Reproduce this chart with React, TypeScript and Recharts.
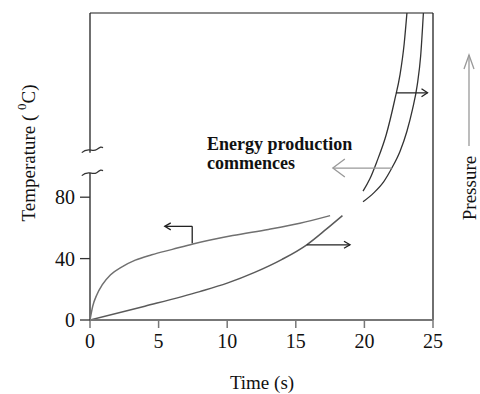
import React from "react";
import { LineChart, Line, XAxis, YAxis, ReferenceLine, ReferenceDot } from "recharts";

type Pt = { t: number; v: number };

const xTicks = [0, 5, 10, 15, 20, 25];
const yTicks = [0, 40, 80];

// temperature (left arrow) - rises fast then flattens
const temperatureCurve: Pt[] = [
  { t: 0, v: 0 }, { t: 0.2, v: 9 }, { t: 0.5, v: 16.5 }, { t: 0.9, v: 23 },
  { t: 1.5, v: 29.5 }, { t: 2.3, v: 34.5 }, { t: 3.3, v: 39 }, { t: 4.5, v: 42.5 },
  { t: 6, v: 46 }, { t: 7.5, v: 49.5 }, { t: 10.4, v: 55 }, { t: 13, v: 59 },
  { t: 15.3, v: 63 }, { t: 17.5, v: 68 },
];

// pressure (right arrow) - slow start then steeper
const pressureCurve: Pt[] = [
  { t: 0, v: 0 }, { t: 4, v: 9 }, { t: 8, v: 18.5 }, { t: 10, v: 24 },
  { t: 12, v: 31 }, { t: 14, v: 39.5 }, { t: 15.8, v: 49 }, { t: 17.2, v: 59 },
  { t: 18.4, v: 68 },
];

// after energy production commences (above the axis break)
const riseLeft: Pt[] = [
  { t: 19.9, v: 84 }, { t: 20.4, v: 92 }, { t: 20.9, v: 103 }, { t: 21.6, v: 121 },
  { t: 22.2, v: 143 }, { t: 22.6, v: 160 }, { t: 22.9, v: 180 }, { t: 23.1, v: 200 },
];
const riseRight: Pt[] = [
  { t: 19.9, v: 77 }, { t: 20.7, v: 83 }, { t: 21.4, v: 90 }, { t: 22.0, v: 99 },
  { t: 22.6, v: 110 }, { t: 23.1, v: 123 }, { t: 23.5, v: 137 }, { t: 23.85, v: 153 },
  { t: 24.1, v: 172 }, { t: 24.3, v: 200 },
];

// axis break positions (data units on the temperature scale)
const breakLow = 96;
const breakHigh = 109;

const serif = "'Liberation Serif', 'DejaVu Serif', serif";

const arrowShape = (color: string, len: number, half: number, head = true) => (props: any) => {
  const { x1, y1, x2, y2 } = props;
  const dx = x2 - x1;
  const dy = y2 - y1;
  const d = Math.sqrt(dx * dx + dy * dy) || 1;
  const ux = dx / d;
  const uy = dy / d;
  const bx = x2 - ux * len;
  const by = y2 - uy * len;
  return (
    <g>
      <line x1={x1} y1={y1} x2={x2} y2={y2} stroke={color} strokeWidth={1.3} />
      {head && (
        <polyline
          points={`${bx - uy * half},${by + ux * half} ${x2},${y2} ${bx + uy * half},${by - ux * half}`}
          fill="none"
          stroke={color}
          strokeWidth={1.3}
        />
      )}
    </g>
  );
};

const squiggle = (props: any) => {
  const { x1, y1, x2 } = props;
  const w = x2 - x1;
  return (
    <path
      d={`M${x1},${y1 + 3} C${x1 + w * 0.3},${y1 - 3} ${x1 + w * 0.5},${y1 + 3} ${x1 + w * 0.7},${y1} S${x2 - 2},${y1 - 3} ${x2},${y1 - 2}`}
      fill="none"
      stroke="#333"
      strokeWidth={1.2}
    />
  );
};

const annotation = (props: any) => (
  <text x={props.cx} y={props.cy} fontFamily={serif} fontWeight="bold" fontSize={18} fill="#111">
    <tspan x={props.cx}>Energy production</tspan>
    <tspan x={props.cx} dy={19}>commences</tspan>
  </text>
);

const TempLabel = () => {
  const cx = 28;
  const cy = 153;
  return (
    <text x={cx} y={cy} transform={`rotate(-90 ${cx} ${cy})`} textAnchor="middle" dominantBaseline="central" fontFamily={serif} fontSize={19} fill="#111">
      Temperature ( <tspan fontSize={13} dy={-7}>0</tspan><tspan dy={7}>C)</tspan>
    </text>
  );
};

const PressureLabel = (props: any) => {
  const { x } = props.viewBox;
  const cx = x + 36;
  const cy = 188;
  return (
    <g>
      <line x1={cx} y1={146} x2={cx} y2={55} stroke="#999" strokeWidth={1.3} />
      <polyline points={`${cx - 5},${69} ${cx},${55} ${cx + 5},${69}`} fill="none" stroke="#999" strokeWidth={1.3} />
      <text x={cx} y={cy} transform={`rotate(-90 ${cx} ${cy})`} textAnchor="middle" dominantBaseline="central" fontFamily={serif} fontSize={19} fill="#111">
        Pressure
      </text>
    </g>
  );
};

const TimeLabel = () => (
  <text x={262} y={389} textAnchor="middle" fontFamily={serif} fontSize={19} fill="#111">
    Time (s)
  </text>
);

export default function App() {
  return (
    <div style={{ position: "absolute", left: 0, top: 0, width: 480, height: 394, background: "#fff" }}>
      <LineChart width={480} height={394} margin={{ top: 13, right: 0, left: 30, bottom: 34 }}>
        <XAxis
          dataKey="t"
          type="number"
          domain={[0, 25]}
          ticks={xTicks}
          allowDataOverflow
          height={40}
          axisLine={{ stroke: "#777", strokeWidth: 2 }}
          tickLine={{ stroke: "#777", strokeWidth: 1.5 }}
          tickSize={8}
          tickMargin={6}
          tick={{ fontSize: 20, fill: "#111", fontFamily: serif }}
          label={<TimeLabel />}
        />
        <YAxis
          type="number"
          domain={[0, 200]}
          ticks={yTicks}
          allowDataOverflow
          width={60}
          axisLine={false}
          tickLine={{ stroke: "#333", strokeWidth: 1.3 }}
          tickSize={10}
          tickMargin={5}
          tick={{ fontSize: 20, fill: "#111", fontFamily: serif }}
          label={<TempLabel />}
        />
        <YAxis
          yAxisId="p"
          orientation="right"
          domain={[0, 1]}
          width={47}
          tick={false}
          tickLine={false}
          axisLine={false}
          label={<PressureLabel />}
        />

        {/* frame and broken temperature axis */}
        <ReferenceLine segment={[{ x: 0, y: 200 }, { x: 25, y: 200 }]} stroke="#666" strokeWidth={1.5} ifOverflow="visible" />
        <ReferenceLine segment={[{ x: 25, y: 0 }, { x: 25, y: 200 }]} stroke="#222" strokeWidth={1.3} ifOverflow="visible" />
        <ReferenceLine segment={[{ x: 0, y: 0 }, { x: 0, y: breakLow }]} stroke="#222" strokeWidth={1.3} ifOverflow="visible" />
        <ReferenceLine segment={[{ x: 0, y: breakHigh }, { x: 0, y: 200 }]} stroke="#222" strokeWidth={1.3} ifOverflow="visible" />
        <ReferenceLine segment={[{ x: -0.6, y: breakLow }, { x: 0.95, y: breakLow }]} shape={squiggle} ifOverflow="visible" />
        <ReferenceLine segment={[{ x: -0.6, y: breakHigh + 2 }, { x: 0.95, y: breakHigh + 2 }]} shape={squiggle} ifOverflow="visible" />

        <Line data={temperatureCurve} dataKey="v" type="monotone" stroke="#707070" strokeWidth={1.5} dot={false} isAnimationActive={false} />
        <Line data={pressureCurve} dataKey="v" type="monotone" stroke="#5a5a5a" strokeWidth={1.5} dot={false} isAnimationActive={false} />
        <Line data={riseLeft} dataKey="v" type="monotone" stroke="#333" strokeWidth={1.3} dot={false} isAnimationActive={false} />
        <Line data={riseRight} dataKey="v" type="monotone" stroke="#333" strokeWidth={1.3} dot={false} isAnimationActive={false} />

        {/* arrows pointing to the axis each curve belongs to */}
        <ReferenceLine segment={[{ x: 7.45, y: 50 }, { x: 7.45, y: 61 }]} shape={arrowShape("#222", 6, 3.5, false)} ifOverflow="visible" />
        <ReferenceLine segment={[{ x: 7.45, y: 61 }, { x: 5.45, y: 61 }]} shape={arrowShape("#222", 6, 3.5)} ifOverflow="visible" />
        <ReferenceLine segment={[{ x: 15.8, y: 49 }, { x: 18.95, y: 49 }]} shape={arrowShape("#222", 6, 3.5)} ifOverflow="visible" />
        <ReferenceLine segment={[{ x: 22.3, y: 148 }, { x: 24.6, y: 148 }]} shape={arrowShape("#222", 6, 4)} ifOverflow="visible" />
        <ReferenceLine segment={[{ x: 22.0, y: 99 }, { x: 17.7, y: 99 }]} shape={arrowShape("#999", 12, 9)} ifOverflow="visible" />

        <ReferenceDot x={8.53} y={110.5} r={0} shape={annotation} ifOverflow="visible" />
      </LineChart>
    </div>
  );
}
